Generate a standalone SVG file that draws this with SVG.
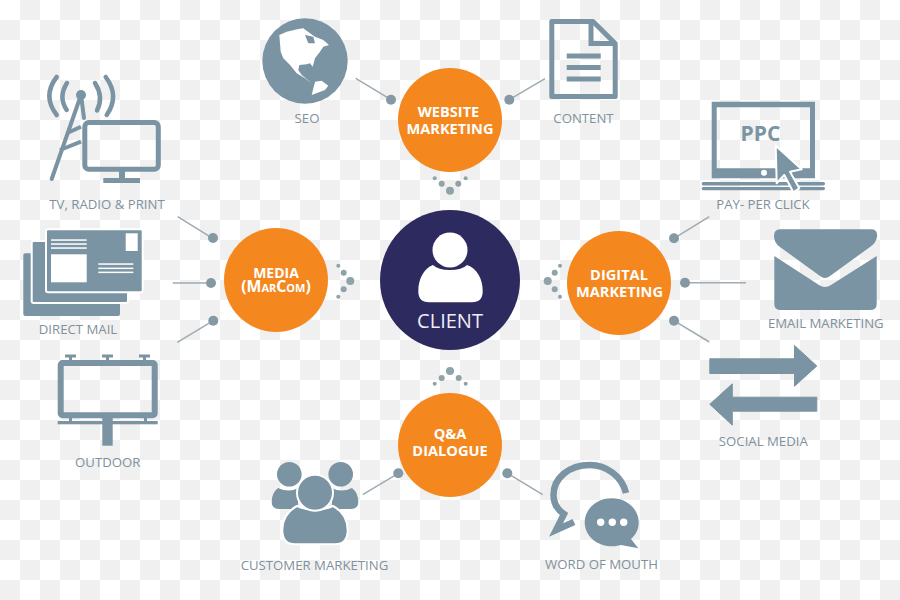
<svg xmlns="http://www.w3.org/2000/svg" width="900" height="600" viewBox="0 0 900 600">
<style>
.ic{fill:#7a94a3}
.st{fill:none;stroke:#7a94a3}
.lb{font-family:"Open Sans","Liberation Sans",sans-serif;font-size:13.2px;font-weight:500;fill:#7f919c;text-anchor:middle}
.or{fill:#f5871f}
.ot{font-family:"Open Sans","Liberation Sans",sans-serif;font-size:14.6px;font-weight:700;fill:#fff;text-anchor:middle}
.ln{stroke:#9eabb2;stroke-width:1.5;fill:none}
.pt{fill:#8599a5}
.dt{fill:#8fa3a8}
.wh{fill:#fff}
</style>
<defs>
<pattern id="chk" width="40" height="40" patternUnits="userSpaceOnUse">
<rect width="40" height="40" fill="#fff"/>
<rect x="20" y="0" width="20" height="20" fill="#f0f0f0"/>
<rect x="0" y="20" width="20" height="20" fill="#f0f0f0"/>
</pattern>
</defs>
<rect id="background" width="900" height="600" fill="url(#chk)"/>
<g id="connectors">
<path class="ln" d="M177.7,216.7L212.7,238.3M172.7,283H211M177.3,342.3L213.3,320.7M355.7,78.3L391,99.7M545,78.7L509.3,99.7M709.3,216.7L674,238.3M746,282.7H685M709.3,342L674,320.7M362.7,494.7L398.3,473.3M542.7,494.7L507.3,473.3"/>
<g class="pt">
<circle cx="213" cy="238" r="5"/><circle cx="211" cy="283" r="5"/><circle cx="213.3" cy="320.7" r="5"/>
<circle cx="391" cy="99.7" r="5"/><circle cx="509.3" cy="99.7" r="5"/>
<circle cx="674" cy="238.3" r="5"/><circle cx="685" cy="282.7" r="5"/><circle cx="674" cy="320.7" r="5"/>
<circle cx="398.3" cy="473.3" r="5"/><circle cx="507.3" cy="473.3" r="5"/>
</g>
<g class="dt">
<circle cx="450" cy="190.7" r="4"/><circle cx="441.7" cy="183.7" r="3"/><circle cx="458.3" cy="183.7" r="3"/><circle cx="434.7" cy="178.3" r="2"/><circle cx="465.7" cy="178.3" r="2"/>
<circle cx="450" cy="371" r="4"/><circle cx="441.7" cy="378" r="3"/><circle cx="458.7" cy="378" r="3"/><circle cx="434.7" cy="383.7" r="2"/><circle cx="465.7" cy="383.7" r="2"/>
<circle cx="350.3" cy="281" r="4"/><circle cx="343.7" cy="272.7" r="3"/><circle cx="343.7" cy="289.3" r="3"/><circle cx="338.3" cy="265.7" r="2"/><circle cx="338.3" cy="296.7" r="2"/>
<circle cx="547.7" cy="281" r="4"/><circle cx="554.7" cy="272.7" r="3"/><circle cx="554.7" cy="289.3" r="3"/><circle cx="560" cy="265.7" r="2"/><circle cx="560" cy="296.7" r="2"/>
</g>
</g>
<g id="client">
<circle cx="450" cy="280" r="70" fill="#2c2a5e"/>
<circle cx="450" cy="250" r="17.5" class="wh"/>
<path class="wh" d="M433,265Q438,270 450,270Q462,270 467,265C477,268 482.7,279 482.7,291Q482.7,302.3 472,302.3H429Q418.3,302.3 418.3,291C418.3,279 424,268 433,265Z"/>
<text x="450" y="328" font-family="'Open Sans','Liberation Sans',sans-serif" font-size="20" fill="#eeeef6" text-anchor="middle">CLIENT</text>
</g>
<g id="website">
<circle class="or" cx="450" cy="120" r="52"/>
<text class="ot" x="448.5" y="117.3">WEBSITE</text>
<text class="ot" x="450" y="134">MARKETING</text>
</g>
<g id="media">
<circle class="or" cx="276" cy="280" r="52"/>
<text class="ot" x="276" y="278.3" style="font-size:14px">MEDIA</text>
<text class="ot" x="276" y="292.3" style="font-size:15.8px;font-variant:small-caps">(MarCom)</text>
</g>
<g id="digital">
<circle class="or" cx="619" cy="283" r="52"/>
<text class="ot" x="619" y="280">DIGITAL</text>
<text class="ot" x="619.5" y="297">MARKETING</text>
</g>
<g id="qa">
<circle class="or" cx="450" cy="445" r="52"/>
<text class="ot" x="450" y="439.3">Q&amp;A</text>
<text class="ot" x="450" y="456">DIALOGUE</text>
</g>
<g id="seo">
<circle class="ic" cx="305" cy="61" r="42.7"/>
<path class="wh" d="M279.3,35L286.7,31.7L298.3,29L303.3,28.3L310,33.3L315,36.7L323.3,40L329,45L323.3,46.7L320,51.7L315,58.3L312.7,66.7L310,63.3L306.7,64.3L299.3,65L298.3,70L301.7,75L310,81.7L311.7,83.3L305,78.3L296.7,73.3L290,65L283.3,58.3L280.7,51.7L280,43.3Z"/>
<path class="ic" d="M305,35L313.3,36.7L315,43.3L308.3,43.3Z"/>
<path class="wh" d="M311.7,95L315,81.7L321.7,80.7L328.3,85.7L325,90Z"/>
<text class="lb" x="307" y="122.7">SEO</text>
</g>
<g id="content">
<path class="st" stroke-width="5" stroke-linejoin="round" d="M551.8,21.5H593L615.2,43.5V96.5H551.8Z"/>
<path class="st" stroke-width="5" d="M591,21.5V43.5H615"/>
<rect class="ic" x="566.7" y="53.5" width="34" height="5"/>
<rect class="ic" x="566.7" y="65" width="34" height="5"/>
<rect class="ic" x="566.7" y="76.5" width="34" height="5"/>
<text class="lb" x="583.5" y="122.7">CONTENT</text>
</g>
<g id="tv">
<rect class="st" stroke-width="5" x="84.8" y="122.5" width="73.5" height="46.7" rx="4"/>
<rect class="ic" x="119" y="171" width="6" height="8"/>
<rect class="ic" x="103.3" y="178" width="36.7" height="5"/>
<circle class="ic" cx="81" cy="95" r="5"/>
<path class="st" stroke-width="4" stroke-linecap="round" d="M81,95L51.7,179M81,95L84,118"/>
<path class="st" stroke-width="4" d="M66.7,133.3L81,126.7M60,150L81,141.7"/>
<path class="st" stroke-width="4.5" stroke-linecap="round" d="M56.7,77Q42,96 56.7,115M67,83Q58,97 66.7,110M95,83Q104,97 97,110.5M105.7,77Q120,96 106.7,115"/>
<text class="lb" x="107" y="209">TV, RADIO &amp; PRINT</text>
</g>
<g id="direct-mail">
<rect class="ic" x="23.3" y="253.3" width="96.7" height="62.7" rx="2"/>
<rect class="ic" x="31.7" y="241" width="96.3" height="62" rx="2" stroke="#fff" stroke-width="2"/>
<rect class="ic" x="46" y="229.3" width="96.7" height="63" rx="2" stroke="#fff" stroke-width="2"/>
<g class="wh">
<rect x="51" y="239.3" width="35.7" height="1.5"/><rect x="51" y="243.3" width="35.7" height="1.5"/><rect x="51" y="247.3" width="35.7" height="1.5"/>
<rect x="51" y="254.3" width="35.7" height="28"/>
<rect x="98.3" y="263.3" width="35" height="1.5"/><rect x="98.3" y="267.6" width="35" height="1.5"/><rect x="98.3" y="271.6" width="35" height="1.5"/>
<rect x="125.7" y="233.3" width="12" height="17.7"/>
</g>
<text class="lb" x="78" y="334">DIRECT MAIL</text>
</g>
<g id="outdoor">
<rect class="st" stroke-width="6" x="60.7" y="363" width="94" height="52.3" rx="2"/>
<path class="st" stroke-width="3" d="M65,356H76M102,356H113M139,356H150M70.5,356V361M107.5,356V361M144.5,356V361"/>
<rect class="ic" x="57.7" y="421" width="100" height="3.3"/>
<rect class="ic" x="69" y="417" width="3" height="5"/><rect class="ic" x="144" y="417" width="3" height="5"/>
<rect class="ic" x="102.3" y="417" width="10.4" height="28.7"/>
<text class="lb" x="107.7" y="466.7">OUTDOOR</text>
</g>
<g id="ppc">
<path class="ic" fill-rule="evenodd" d="M711.7,101.7H815V178.3H711.7ZM716.7,107.3V168.3H810V107.3Z"/>
<circle class="wh" cx="764" cy="172.7" r="3"/>
<rect class="ic" x="701.7" y="182" width="123.3" height="3.4" rx="1.7"/>
<rect class="ic" x="701.7" y="187" width="123.3" height="3.2" rx="1.6"/>
<text x="760.5" y="140.7" font-family="'Open Sans','Liberation Sans',sans-serif" font-size="21" font-weight="700" fill="#7a94a3" text-anchor="middle">PPC</text>
<path class="ic" stroke="#fff" stroke-width="2" stroke-linejoin="round" d="M775.7,145.7L801.7,169.3L790,171.7L799.3,188.3L793.3,192.3L784.3,175L776.7,183.3Z"/>
<text class="lb" x="763" y="209">PAY- PER CLICK</text>
</g>
<g id="email">
<path class="ic" d="M780,229.3H871Q878,229.3 877,237Q876,243 870,247L830,276Q825,280 820,276L780,247Q774,243 774,236Q774,229.3 780,229.3Z"/>
<path class="ic" d="M774.3,256L819,285Q825,289 831,285L876.7,256V304Q876.7,310 870,310H781Q774.3,310 774.3,304Z"/>
<text class="lb" x="825.8" y="327.7">EMAIL MARKETING</text>
</g>
<g id="social">
<path class="ic" stroke="#7a94a3" stroke-width="1" stroke-linejoin="round" d="M709.8,358.8H794.5V345.5L816.8,366L794.5,386.2V373.5H709.8Z"/>
<path class="ic" stroke="#7a94a3" stroke-width="1" stroke-linejoin="round" d="M816.8,397.2H732.3V383.8L709.8,404.3L732.3,425.2V411.2H816.8Z"/>
<text class="lb" x="763.3" y="446">SOCIAL MEDIA</text>
</g>
<g id="customer">
<circle class="ic" cx="289.3" cy="474.3" r="12.3"/>
<circle class="ic" cx="340.7" cy="474.3" r="12.3"/>
<path class="ic" d="M278,488Q289,493 298,488V509H279Q271.7,509 271.7,502Q271.7,493 278,488Z"/>
<path class="ic" d="M352,488Q341,493 332,488V509H351Q358.3,509 358.3,502Q358.3,493 352,488Z"/>
<path class="ic" stroke="#fff" stroke-width="2" d="M297,506Q315,514 333,506Q347.7,514 347.7,530Q347.7,544.3 335,544.3H295Q282.3,544.3 282.3,530Q282.3,514 297,506Z"/>
<circle class="ic" stroke="#fff" stroke-width="2" cx="315" cy="492.7" r="18"/>
<text class="lb" x="314.5" y="570">CUSTOMER MARKETING</text>
</g>
<g id="word-of-mouth">
<path class="st" stroke-width="6.5" stroke-miterlimit="8" d="M626,493C622,476 606,465 590,465C569,465 553.5,478 553.5,495C553.5,504 558,510 564,514L556,530L574,522"/>
<path class="ic" d="M611.7,498.3C627,498.3 638.7,509 638.7,522.3C638.7,529 636,535 631,539L638.3,548.3L621,545C618,546 615,546.3 611.7,546.3C596.5,546.3 584.7,535.6 584.7,522.3C584.7,509 596.5,498.3 611.7,498.3Z"/>
<circle class="wh" cx="600.7" cy="522.3" r="3.7"/><circle class="wh" cx="612.3" cy="522.3" r="3.7"/><circle class="wh" cx="623.7" cy="522.3" r="3.7"/>
<text class="lb" x="601.5" y="569">WORD OF MOUTH</text>
</g>
</svg>
